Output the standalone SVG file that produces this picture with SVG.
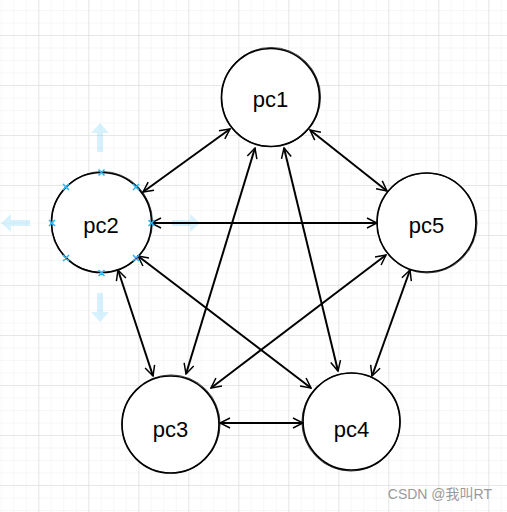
<svg xmlns="http://www.w3.org/2000/svg" width="507" height="512" viewBox="0 0 507 512">
<defs>
<pattern id="minor" x="0.8" y="10" width="12.5" height="12.5" patternUnits="userSpaceOnUse">
<path d="M0 0 V12.5 M0 0 H12.5" fill="none" stroke="#efefef" stroke-width="1"/>
</pattern>
<pattern id="major" x="38.3" y="35" width="50" height="50" patternUnits="userSpaceOnUse">
<path d="M0 0 V50 M0 0 H50" fill="none" stroke="#d8d8d8" stroke-width="1"/>
</pattern>
<marker id="arr" viewBox="0 0 12 12" refX="11" refY="6" markerWidth="12" markerHeight="12" markerUnits="userSpaceOnUse" orient="auto-start-reverse">
<path d="M1 1 L11 6 L1 11" fill="none" stroke="#000" stroke-width="1.5"/>
</marker>
</defs>
<style>
.node circle.main{fill:#fff;stroke:#000;stroke-width:1.7}
.node circle.sk{fill:none;stroke:#000;stroke-width:0.7}
.node text{font-family:"Liberation Sans",Arial,sans-serif;font-size:22px;fill:#000;text-anchor:middle}
.edges line{stroke:#000;stroke-width:2;marker-start:url(#arr);marker-end:url(#arr)}
.hint{fill:#29b6f2;opacity:0.18}
.xm{stroke:#29b6f2;stroke-width:1.5;fill:none}
</style>
<rect width="507" height="512" fill="#fff"/>
<rect width="507" height="512" fill="url(#minor)"/>
<rect width="507" height="512" fill="url(#major)"/>

<g id="hints">
<polygon class="hint" points="100,123 109,133 103,133 103,152 97,152 97,133 91,133"/>
<polygon class="hint" points="100,322 109,312 103,312 103,293 97,293 97,312 91,312"/>
<polygon class="hint" points="1,223 11,214 11,220 30,220 30,226 11,226 11,232"/>
<polygon class="hint" points="200,223 190,214 190,220 172,220 172,226 190,226 190,232"/>
</g>

<g id="pc1" class="node">
<circle class="main" cx="270.5" cy="97.5" r="49"/>
<circle class="sk" cx="271" cy="97" r="49.6"/>
<text x="270.5" y="107">pc1</text>
</g>
<g id="pc2" class="node">
<circle class="main" cx="101.5" cy="222.5" r="50"/>
<circle class="sk" cx="102" cy="222" r="50.5"/>
<text x="101" y="233">pc2</text>
</g>
<g id="pc5" class="node">
<circle class="main" cx="426.5" cy="222.5" r="49.5"/>
<circle class="sk" cx="427" cy="223" r="50"/>
<text x="426.5" y="233">pc5</text>
</g>
<g id="pc3" class="node">
<circle class="main" cx="170.5" cy="424.5" r="48.5"/>
<circle class="sk" cx="171" cy="424" r="49.1"/>
<text x="170.5" y="437">pc3</text>
</g>
<g id="pc4" class="node">
<circle class="main" cx="351.5" cy="421.5" r="48.5"/>
<circle class="sk" cx="351" cy="422" r="49.1"/>
<text x="351.5" y="437">pc4</text>
</g>

<g id="edges" class="edges">
<line x1="230" y1="129" x2="143" y2="192"/>
<line x1="310" y1="130" x2="387" y2="191"/>
<line x1="255" y1="148" x2="186" y2="374"/>
<line x1="284" y1="148" x2="338" y2="371"/>
<line x1="151" y1="223" x2="377" y2="223"/>
<line x1="118" y1="270" x2="153" y2="376"/>
<line x1="138" y1="256" x2="311" y2="388"/>
<line x1="386" y1="255" x2="211" y2="388"/>
<line x1="410" y1="270" x2="372" y2="376"/>
<line x1="220" y1="423" x2="303" y2="423"/>
</g>

<g id="pc2-points">
<path class="xm" d="M98.5 169.5 l6 6 m0 -6 l-6 6 M133 184 l6 6 m0 -6 l-6 6 M148.5 220 l6 6 m0 -6 l-6 6 M133 255 l6 6 m0 -6 l-6 6 M98.5 270 l6 6 m0 -6 l-6 6 M63 255 l6 6 m0 -6 l-6 6 M49 220 l6 6 m0 -6 l-6 6 M63 184 l6 6 m0 -6 l-6 6"/>
</g>

<text x="492" y="499" font-family="Liberation Sans,'Noto Sans CJK SC',sans-serif" font-size="14" fill="#9a9a9a" text-anchor="end">CSDN @我叫RT</text>
</svg>
